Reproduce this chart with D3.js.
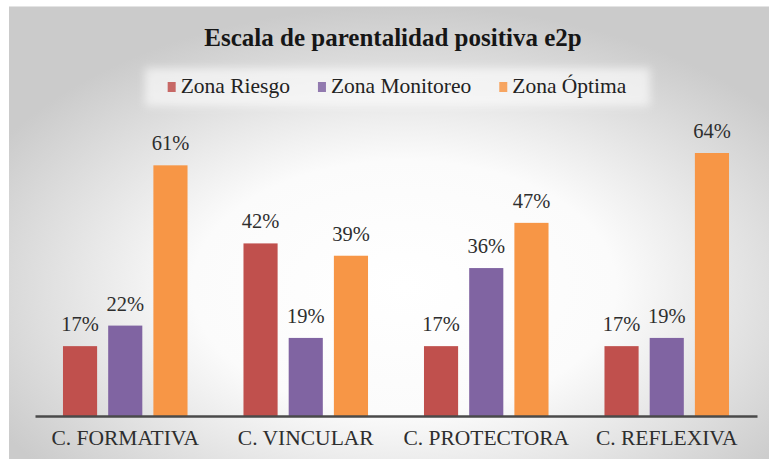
<!DOCTYPE html>
<html>
<head>
<meta charset="utf-8">
<script src="https://cdn.jsdelivr.net/npm/d3@7"></script>
<style>
html,body{margin:0;padding:0;background:#fff;}
svg{display:block;}
svg text{font-family:"Liberation Serif","Times New Roman","DejaVu Serif",serif !important;}
</style>
</head>
<body>
<svg id="chart" width="769" height="459"></svg>
<script>
const title = "Escala de parentalidad positiva e2p";
const categories = ["C. FORMATIVA", "C. VINCULAR", "C. PROTECTORA", "C. REFLEXIVA"];
const seriesNames = ["Zona Riesgo", "Zona Monitoreo", "Zona Óptima"];
const seriesColors = ["#C0504D", "#8064A2", "#F79646"];
const zonaRiesgo = [17, 42, 17, 17];
const zonaMonitoreo = [22, 19, 36, 19];
const zonaOptima = [61, 39, 47, 64];
const seriesValues = [zonaRiesgo, zonaMonitoreo, zonaOptima];

const FONT = "'Liberation Serif','Times New Roman','DejaVu Serif',serif";
const svg = d3.select("#chart");
const W = 769, H = 459;

// background
const defs = svg.append("defs");
const grad = defs.append("radialGradient").attr("id", "bg")
  .attr("cx", "0.52").attr("cy", "0.62").attr("r", "0.62");
grad.append("stop").attr("offset", "0").attr("stop-color", "#ffffff");
grad.append("stop").attr("offset", "0.45").attr("stop-color", "#fbfbfb");
grad.append("stop").attr("offset", "1").attr("stop-color", "#cbcbcb");
const blur = defs.append("filter").attr("id", "soft").attr("x", "-10%").attr("y", "-50%").attr("width", "120%").attr("height", "200%");
blur.append("feGaussianBlur").attr("stdDeviation", 4);

svg.append("rect").attr("x", 0).attr("y", 0).attr("width", W).attr("height", H).attr("fill", "#ffffff");
svg.append("rect").attr("x", 9).attr("y", 6).attr("width", W - 9).attr("height", H - 6).attr("fill", "url(#bg)");
svg.append("line").attr("x1", 9).attr("x2", W).attr("y1", 6.5).attr("y2", 6.5).attr("stroke", "#e4e4e4").attr("stroke-width", 1);

// title
svg.append("text").attr("x", 393).attr("y", 46).attr("text-anchor", "middle")
  .attr("font-family", FONT)
  .attr("font-size", 25).attr("font-weight", "bold").attr("fill", "#161616").text(title);

// legend
svg.append("rect").attr("x", 145).attr("y", 68).attr("width", 505).attr("height", 38)
  .attr("fill", "#ffffff").attr("opacity", 0.6).attr("filter", "url(#soft)");
const leg = svg.append("g");
let lx = 0;
seriesNames.forEach((name, i) => {
  const g = leg.append("g").attr("transform", `translate(${lx},0)`);
  g.append("rect").attr("x", 0).attr("y", -11).attr("width", 8).attr("height", 10).attr("fill", seriesColors[i]).attr("opacity", 0.85);
  const t = g.append("text").attr("x", 13).attr("y", 0).attr("font-family", FONT)
    .attr("font-size", 21.5).attr("fill", "#222222").text(name);
  lx += 13 + t.node().getComputedTextLength() + 28;
});
lx -= 28;
leg.attr("transform", `translate(${397 - lx / 2},93)`);

// scales
const x0 = d3.scaleBand().domain(categories).range([35, 757]).padding(0);
const x1 = d3.scaleBand().domain(seriesNames)
  .range([x0.bandwidth() * 0.155, x0.bandwidth() * 0.845]).paddingInner(0.245);
const y = d3.scaleLinear().domain([0, 64]).range([416, 153]);

const groups = svg.append("g").selectAll("g").data(categories).join("g")
  .attr("transform", d => `translate(${x0(d)},0)`);

seriesNames.forEach((s, si) => {
  groups.append("rect")
    .attr("x", x1(s))
    .attr("width", x1.bandwidth())
    .attr("y", (d, ci) => y(seriesValues[si][ci]))
    .attr("height", (d, ci) => y(0) - y(seriesValues[si][ci]))
    .attr("fill", seriesColors[si]);
  groups.append("text")
    .attr("x", x1(s) + x1.bandwidth() / 2)
    .attr("y", (d, ci) => y(seriesValues[si][ci]) - 15)
    .attr("text-anchor", "middle")
    .attr("font-family", FONT)
    .attr("font-size", 20.5)
    .attr("fill", "#2e2e2e")
    .text((d, ci) => seriesValues[si][ci] + "%");
});

// axis
const axis = svg.append("g").attr("transform", `translate(0,${y(0)})`)
  .call(d3.axisBottom(x0).tickSize(0).tickPadding(14));
axis.attr("font-family", FONT);
axis.select(".domain").attr("stroke", "#4a4a4a").attr("stroke-width", 2.5);
axis.selectAll("text").attr("font-size", 21.5).attr("fill", "#2e2e2e")
  .attr("font-family", FONT);
</script>
</body>
</html>
